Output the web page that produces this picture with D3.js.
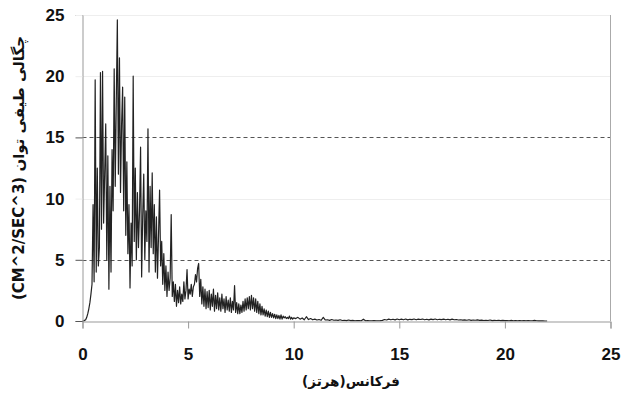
<!DOCTYPE html>
<html>
<head>
<meta charset="utf-8">
<script src="https://cdn.jsdelivr.net/npm/d3@7"></script>
<style>
  body { margin: 0; background: #fff; }
  svg { display: block; }
</style>
</head>
<body>
<div id="chart"></div>
<script>
// power spectral density, 0 - 10 Hz, one value every 0.05 Hz
const freqStep = 0.05;
const psdLow = [
  0, 0, 0.05, 0.1, 0.3, 0.6, 1.0, 1.5, 2.2, 3.0,
  9.5, 3.2, 19.7, 4.0, 12.5, 4.5, 6.0, 20.3, 7.5, 20.4,
  8.0, 12.0, 16.1, 5.0, 13.5, 2.6, 11.0, 4.0, 14.0, 9.0,
  20.6, 11.0, 18.0, 24.6, 12.0, 21.5, 10.5, 16.0, 19.1, 9.0,
  18.3, 7.0, 13.0, 5.5, 9.5, 2.7, 8.0, 4.5, 20.0, 6.5,
  12.5, 5.0, 10.5, 6.0, 9.0, 14.2, 3.6, 8.5, 12.0, 5.0,
  9.0, 6.5, 15.7, 4.0, 11.0, 6.0, 12.1, 5.5, 9.5, 4.0,
  8.5, 3.5, 7.0, 10.7, 4.5, 6.5, 3.0, 5.5, 2.5, 4.5,
  2.0, 4.0, 2.5, 3.5, 8.7, 2.0, 3.2, 1.6, 3.0, 1.2,
  2.5, 1.5, 2.8, 1.4, 2.2, 1.6, 3.2, 1.8, 2.5, 4.2,
  1.8, 2.6, 2.2, 3.0, 2.0, 2.8, 3.0, 3.8, 3.2, 4.3,
  4.7, 2.0, 3.4, 1.4, 2.8, 1.2, 2.6, 1.0, 2.4, 1.1,
  2.5, 0.9, 2.2, 1.2, 2.6, 0.8, 2.1, 1.0, 2.3, 0.9,
  1.9, 0.8, 2.2, 1.0, 1.8, 0.7, 2.0, 0.9, 1.7, 0.8,
  1.9, 0.7, 1.6, 0.9, 2.9, 0.7, 1.5, 0.6, 1.4, 0.6,
  1.3, 0.7, 1.6, 0.8, 1.8, 0.9, 1.9, 1.0, 2.0, 0.9,
  2.1, 1.0, 1.9, 0.8, 1.8, 0.7, 1.6, 0.6, 1.4, 0.5,
  1.2, 0.5, 1.0, 0.4, 0.9, 0.35, 0.8, 0.3, 0.7, 0.3,
  0.6, 0.25, 0.55, 0.2, 0.5, 0.2, 0.45, 0.15, 0.5, 0.15,
  0.4, 0.25, 0.35, 0.2, 0.3, 0.2, 0.4, 0.15, 0.3, 0.15,
  0.25
];

// tail, 10.1 - 22 Hz, one value every 0.1 Hz
const tailStart = 10.1;
const tailStep = 0.1;
const psdTail = [
  0.2, 0.3, 0.15, 0.25, 0.1, 0.35, 0.12, 0.2, 0.1, 0.15,
  0.08, 0.12, 0.06, 0.3, 0.08, 0.1, 0.05, 0.12, 0.06, 0.08,
  0.05, 0.1, 0.04, 0.06, 0.03, 0.08, 0.03, 0.05, 0.02, 0.04,
  0.03, 0.02, 0.15, 0.02, 0.03, 0.02, 0.02, 0.03, 0.02, 0.02,
  0.03, 0.05, 0.12, 0.08, 0.15, 0.1, 0.14, 0.09, 0.16, 0.1,
  0.15, 0.1, 0.16, 0.09, 0.14, 0.11, 0.16, 0.1, 0.15, 0.12,
  0.16, 0.1, 0.14, 0.09, 0.15, 0.11, 0.16, 0.1, 0.14, 0.11,
  0.15, 0.1, 0.14, 0.09, 0.15, 0.1, 0.12, 0.08, 0.1, 0.07,
  0.09, 0.06, 0.1, 0.05, 0.08, 0.06, 0.09, 0.05, 0.07, 0.04,
  0.06, 0.04, 0.08, 0.03, 0.05, 0.04, 0.06, 0.03, 0.05, 0.03,
  0.04, 0.02, 0.05, 0.02, 0.04, 0.02, 0.03, 0.02, 0.04, 0.02,
  0.03, 0.02, 0.02, 0.05, 0.02, 0.01, 0.02, 0.01, 0, 0
];

const xTicks = [0, 5, 10, 15, 20, 25];
const yTicks = [0, 5, 10, 15, 20, 25];
const yDashed = [5, 15];

const xTitle = 'فرکانس(هرتز)';
const yTitle = 'چگالی طیفی توان (CM^2/SEC^3)';

const width = 622;
const height = 395;

const points = psdLow.map((v, i) => [i * freqStep, v])
  .concat(psdTail.map((v, i) => [tailStart + i * tailStep, v]));

const x = d3.scaleLinear().domain([0, 25]).range([82.5, 610.5]);
const y = d3.scaleLinear().domain([0, 25]).range([321, 15]);

const svg = d3.select('#chart')
  .append('svg')
  .attr('width', width)
  .attr('height', height);

// faint gridlines where the scan lost them, dashed at 5 and 15
svg.append('g')
  .selectAll('line')
  .data(yTicks.filter(d => d > 0))
  .enter()
  .append('line')
  .attr('x1', x(0))
  .attr('x2', x(25))
  .attr('y1', d => Math.round(y(d)) + 0.5)
  .attr('y2', d => Math.round(y(d)) + 0.5)
  .attr('stroke', d => yDashed.includes(d) ? '#555' : '#eee')
  .attr('stroke-width', 1)
  .attr('stroke-dasharray', d => yDashed.includes(d) ? '4,3' : null);

// right border of the plot area
svg.append('line')
  .attr('x1', x(25)).attr('x2', x(25))
  .attr('y1', y(25)).attr('y2', y(0))
  .attr('stroke', '#aaa');

// the spectrum
const line = d3.line()
  .x(d => x(d[0]))
  .y(d => y(d[1]));

svg.append('path')
  .datum(points)
  .attr('d', line)
  .attr('fill', 'none')
  .attr('stroke', '#222')
  .attr('stroke-width', 1.2)
  .attr('stroke-linejoin', 'round');

// axes
const xAxis = svg.append('g')
  .attr('transform', 'translate(0,' + (y(0) + 0.5) + ')')
  .call(d3.axisBottom(x).tickValues(xTicks).tickSize(7).tickFormat(d3.format('d')));

const yAxis = svg.append('g')
  .attr('transform', 'translate(' + x(0) + ',0)')
  .call(d3.axisLeft(y).tickValues(yTicks).tickSize(7).tickFormat(d3.format('d')));

[xAxis, yAxis].forEach(g => {
  g.select('.domain').attr('stroke', '#999');
  g.selectAll('.tick line').attr('stroke', '#999');
  g.selectAll('.tick text')
    .attr('font-family', 'Liberation Sans, Arial, sans-serif')
    .attr('font-weight', 'bold')
    .attr('font-size', 17)
    .attr('fill', '#111');
});

xAxis.selectAll('.tick text').attr('y', 26).attr('dy', '0.71em');
yAxis.selectAll('.tick text').attr('x', -18);
yAxis.selectAll('.tick line')
  .attr('stroke', d => (d === 0 || yDashed.includes(d)) ? '#555' : '#eee');

// axis titles
svg.append('text')
  .attr('x', 351)
  .attr('y', 386)
  .attr('text-anchor', 'middle')
  .attr('direction', 'rtl')
  .attr('font-family', 'DejaVu Sans, sans-serif')
  .attr('font-weight', 'bold')
  .attr('font-size', 13.5)
  .attr('fill', '#111')
  .text(xTitle);

svg.append('text')
  .attr('transform', 'translate(24,' + ((y(0) + y(25)) / 2) + ') rotate(-90)')
  .attr('text-anchor', 'middle')
  .attr('direction', 'rtl')
  .attr('font-family', 'DejaVu Sans, sans-serif')
  .attr('font-weight', 'bold')
  .attr('font-size', 15)
  .attr('fill', '#111')
  .text(yTitle);
</script>
</body>
</html>
